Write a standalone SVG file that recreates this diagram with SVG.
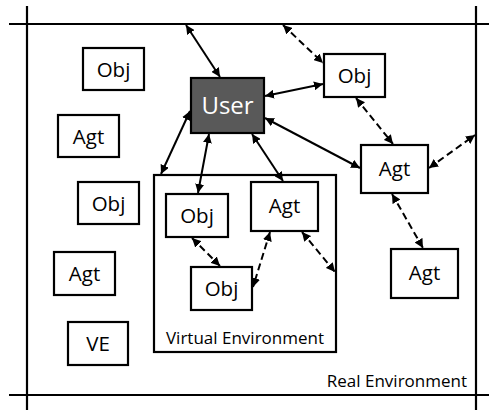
<svg xmlns="http://www.w3.org/2000/svg" width="489" height="410" viewBox="0 0 489 410">
<style>
.frame{stroke:#000;stroke-width:2.2;fill:none}
.box{fill:#fff;stroke:#000;stroke-width:2.2}
.user{fill:#595959;stroke:#000;stroke-width:2.2}
.lbl{font-family:"Open Sans","Noto Sans",sans-serif;font-size:20.5px;fill:#000;text-anchor:middle}
.ulbl{font-family:"Open Sans","Noto Sans",sans-serif;font-size:24px;fill:#fff;text-anchor:middle}
.env{font-family:"Open Sans","Noto Sans",sans-serif;font-size:17px;fill:#000}
.c{stroke:#000;stroke-width:2;fill:none;marker-start:url(#ah);marker-end:url(#ah)}
.d{stroke-dasharray:7,4}
</style>
<defs>
<marker id="ah" viewBox="0 0 10 10" refX="10" refY="5" markerWidth="4.5" markerHeight="4.5" orient="auto-start-reverse" markerUnits="strokeWidth">
<path d="M0,0 L10,5 L0,10 z" fill="#000"/>
</marker>
</defs>
<g id="frame">
<line class="frame" x1="9" y1="24" x2="489" y2="24"/>
<line class="frame" x1="9" y1="395" x2="489" y2="395"/>
<line class="frame" x1="27" y1="6" x2="27" y2="410"/>
<line class="frame" x1="476" y1="6" x2="476" y2="410"/>
<text class="env" x="467" y="387" text-anchor="end">Real Environment</text>
</g>
<g id="ve">
<rect class="box" x="154" y="175" width="182" height="177"/>
<text class="env" x="245" y="344" text-anchor="middle">Virtual Environment</text>
</g>
<g id="obj1"><rect class="box" x="83" y="48" width="61" height="42"/><text class="lbl" x="113.5" y="77">Obj</text></g>
<g id="agt1"><rect class="box" x="58" y="115" width="61" height="42"/><text class="lbl" x="88.5" y="144">Agt</text></g>
<g id="obj2"><rect class="box" x="78" y="182" width="61" height="42"/><text class="lbl" x="108.5" y="211">Obj</text></g>
<g id="agt2"><rect class="box" x="54" y="252" width="61" height="43"/><text class="lbl" x="84.5" y="281">Agt</text></g>
<g id="vebox"><rect class="box" x="68" y="322" width="60" height="43"/><text class="lbl" x="98" y="351">VE</text></g>
<g id="user"><rect class="user" x="191" y="78" width="73" height="55"/><text class="ulbl" x="227.5" y="114">User</text></g>
<g id="obj3"><rect class="box" x="324" y="54" width="61" height="43"/><text class="lbl" x="354.5" y="83">Obj</text></g>
<g id="agt3"><rect class="box" x="361" y="145" width="67" height="48"/><text class="lbl" x="394.5" y="176">Agt</text></g>
<g id="agt4"><rect class="box" x="391" y="249" width="67" height="49"/><text class="lbl" x="424.5" y="280">Agt</text></g>
<g id="vobj1"><rect class="box" x="166" y="194" width="62" height="43"/><text class="lbl" x="197" y="223">Obj</text></g>
<g id="vagt"><rect class="box" x="251" y="182" width="67" height="49"/><text class="lbl" x="284.5" y="213">Agt</text></g>
<g id="vobj2"><rect class="box" x="191" y="267" width="61" height="43"/><text class="lbl" x="221.5" y="296">Obj</text></g>
<g id="connectors">
<line class="c" x1="186" y1="25" x2="220" y2="77"/>
<line class="c d" x1="283" y1="25" x2="323" y2="63"/>
<line class="c" x1="265" y1="96" x2="323" y2="84"/>
<line class="c" x1="265" y1="118" x2="360" y2="168"/>
<line class="c d" x1="356" y1="98" x2="393" y2="144"/>
<line class="c d" x1="429" y1="168" x2="475" y2="135"/>
<line class="c d" x1="392" y1="194" x2="423" y2="248"/>
<line class="c" x1="190" y1="111" x2="161" y2="174"/>
<line class="c" x1="209" y1="134" x2="198" y2="193"/>
<line class="c" x1="252" y1="134" x2="283" y2="181"/>
<line class="c d" x1="192" y1="238" x2="220" y2="266"/>
<line class="c d" x1="270" y1="232" x2="253" y2="287"/>
<line class="c d" x1="302" y1="232" x2="335" y2="272"/>
</g>
</svg>
